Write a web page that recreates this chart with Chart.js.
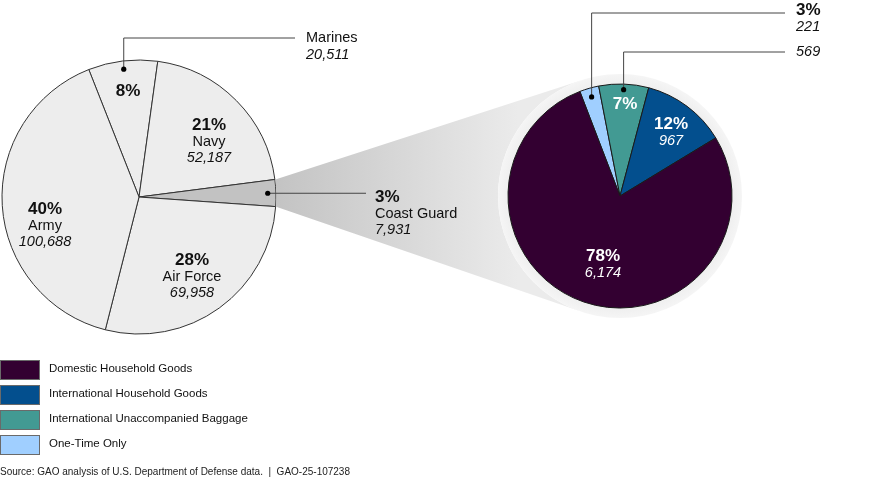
<!DOCTYPE html>
<html>
<head>
<meta charset="utf-8">
<script src="https://cdn.jsdelivr.net/npm/chart.js@4.4.1/dist/chart.umd.min.js"></script>
<style>
  body { margin: 0; background: #fff; font-family: "Liberation Sans", Arial, sans-serif; }
  #wrap { position: relative; width: 896px; height: 485px; overflow: hidden; }
  #wrap canvas { position: absolute; left: 0; top: 0; }
  #legend { position: absolute; left: 0; top: 360px; }
  .row { position: relative; height: 25px; }
  .box { position: absolute; left: 0; top: 0; width: 38px; height: 18px; border: 1px solid #6a6a6a; }
  .lbl { position: absolute; left: 49px; top: 2px; font-size: 11.5px; color: #111; white-space: nowrap; }
  #source { position: absolute; left: 0; top: 466px; font-size: 10px; color: #222; white-space: pre; }
</style>
</head>
<body>
<div id="wrap">
  <canvas id="left" width="896" height="485"></canvas>
  <canvas id="right" width="896" height="485"></canvas>
  <div id="legend"></div>
  <div id="source">Source: GAO analysis of U.S. Department of Defense data.  |  GAO-25-107238</div>
</div>
<script>
// data
const branches = ['Marines', 'Navy', 'Coast Guard', 'Air Force', 'Army'];
const branchMoves = [20511, 52187, 7931, 69958, 100688];
const branchColors = ['#ededed', '#ededed', '#c2c2c2', '#ededed', '#ededed'];

// Coast Guard breakdown, drawn clockwise from the top
const shipTypes = ['One-Time Only', 'International Unaccompanied Baggage', 'International Household Goods', 'Domestic Household Goods'];
const shipMoves = [221, 569, 967, 6174];
const shipColors = ['#a0cfff', '#429a93', '#034f8e', '#330031'];

const FONT = '"Liberation Sans", Arial, sans-serif';

function pct(arr, i) {
  const total = arr.reduce((a, b) => a + b, 0);
  return Math.round(arr[i] / total * 100) + '%';
}
function fmt(n) { return n.toLocaleString('en-US'); }

function text(ctx, str, x, y, style, color, align) {
  ctx.font = style + ' ' + FONT;
  ctx.fillStyle = color || '#111';
  ctx.textAlign = align || 'center';
  ctx.textBaseline = 'middle';
  ctx.fillText(str, x, y);
}

// point inside a slice where a leader line starts
function dotOf(el, f) {
  const mid = (el.startAngle + el.endAngle) / 2;
  return [el.x + Math.cos(mid) * el.outerRadius * f, el.y + Math.sin(mid) * el.outerRadius * f];
}

function leader(ctx, pts) {
  ctx.save();
  ctx.strokeStyle = '#444';
  ctx.lineWidth = 1;
  ctx.beginPath();
  ctx.moveTo(pts[0][0], pts[0][1]);
  for (let i = 1; i < pts.length; i++) ctx.lineTo(pts[i][0], pts[i][1]);
  ctx.stroke();
  ctx.fillStyle = '#000';
  ctx.beginPath();
  ctx.arc(pts[0][0], pts[0][1], 2.6, 0, Math.PI * 2);
  ctx.fill();
  ctx.restore();
}

const base = {
  responsive: false,
  animation: false,
  events: [],
  plugins: { legend: { display: false }, tooltip: { enabled: false } }
};

// labels for the left pie (Coast Guard label is drawn on the right canvas, above the zoom wedge)
const leftLabels = {
  id: 'leftLabels',
  afterDatasetsDraw(chart) {
    const ctx = chart.ctx;
    const arcs = chart.getDatasetMeta(0).data;
    const at = [[128, 91], [209, 125], null, [192, 260], [45, 209]];
    at.forEach((p, i) => {
      if (!p) return;
      text(ctx, pct(branchMoves, i), p[0], p[1], 'bold 17px');
      if (i === 0) return;
      text(ctx, branches[i], p[0], p[1] + 17, '14.5px');
      text(ctx, fmt(branchMoves[i]), p[0], p[1] + 33, 'italic 14.5px');
    });
    // Marines
    const d = dotOf(arcs[0], 0.94);
    leader(ctx, [d, [d[0], 38], [295, 38]]);
    text(ctx, branches[0], 306, 38, '14.5px', '#111', 'left');
    text(ctx, fmt(branchMoves[0]), 306, 55, 'italic 14.5px', '#111', 'left');
  }
};

const leftChart = new Chart(document.getElementById('left'), {
  type: 'pie',
  data: {
    labels: branches,
    datasets: [{ data: branchMoves, backgroundColor: branchColors, borderColor: '#333', borderWidth: 1 }]
  },
  options: Object.assign({}, base, {
    rotation: -21.5,
    layout: { padding: { left: 1.5, top: 59.5, right: 619.5, bottom: 150.5 } }
  }),
  plugins: [leftLabels]
});

const rightDecor = {
  id: 'rightDecor',
  beforeDatasetsDraw(chart) {
    const ctx = chart.ctx;
    const cg = leftChart.getDatasetMeta(0).data[2];
    const pie = chart.getDatasetMeta(0).data[0];
    const cx = pie.x, cy = pie.y, hr = pie.outerRadius + 10;
    const R = cg.outerRadius + 0.5;
    const p1 = [cg.x + Math.cos(cg.startAngle) * R, cg.y + Math.sin(cg.startAngle) * R];
    const p2 = [cg.x + Math.cos(cg.endAngle) * R, cg.y + Math.sin(cg.endAngle) * R];
    const tan = (p, sign) => {
      const dx = p[0] - cx, dy = p[1] - cy;
      const d = Math.hypot(dx, dy);
      return Math.atan2(dy, dx) + sign * Math.acos(hr / d);
    };
    const t1 = tan(p1, 1), t2 = tan(p2, -1);
    const g = ctx.createLinearGradient(p1[0], 0, cx - hr + 20, 0);
    g.addColorStop(0, '#c3c3c3');
    g.addColorStop(1, '#ebebeb');
    ctx.save();
    ctx.fillStyle = g;
    ctx.beginPath();
    ctx.moveTo(p1[0], p1[1]);
    ctx.lineTo(cx + Math.cos(t1) * hr, cy + Math.sin(t1) * hr);
    ctx.arc(cx, cy, hr, t1, t2, true);
    ctx.lineTo(p2[0], p2[1]);
    ctx.arc(cg.x, cg.y, R, cg.endAngle, cg.startAngle, true);
    ctx.closePath();
    ctx.fill();
    // halo round the zoomed pie
    const h = ctx.createRadialGradient(cx, cy, pie.outerRadius, cx, cy, hr);
    h.addColorStop(0, '#efefef');
    h.addColorStop(1, '#f5f5f5');
    ctx.fillStyle = h;
    ctx.beginPath();
    ctx.arc(cx, cy, hr, 0, Math.PI * 2);
    ctx.fill();
    ctx.restore();
  },
  afterDatasetsDraw(chart) {
    const ctx = chart.ctx;
    const arcs = chart.getDatasetMeta(0).data;
    // Coast Guard callout
    const cg = leftChart.getDatasetMeta(0).data[2];
    const c = dotOf(cg, 0.94);
    leader(ctx, [c, [366, c[1]]]);
    text(ctx, pct(branchMoves, 2), 375, 197, 'bold 17px', '#111', 'left');
    text(ctx, branches[2], 375, 214, '14.5px', '#111', 'left');
    text(ctx, fmt(branchMoves[2]), 375, 230, 'italic 14.5px', '#111', 'left');

    // inside labels
    text(ctx, pct(shipMoves, 1), 625, 104, 'bold 17px', '#fff');
    text(ctx, pct(shipMoves, 2), 671, 124, 'bold 17px', '#fff');
    text(ctx, fmt(shipMoves[2]), 671, 141, 'italic 14.5px', '#fff');
    text(ctx, pct(shipMoves, 3), 603, 256, 'bold 17px', '#fff');
    text(ctx, fmt(shipMoves[3]), 603, 273, 'italic 14.5px', '#fff');

    // callouts for the two thin slices
    const a = dotOf(arcs[0], 0.92);
    leader(ctx, [a, [a[0], 13], [785, 13]]);
    text(ctx, pct(shipMoves, 0), 796, 10, 'bold 17px', '#111', 'left');
    text(ctx, fmt(shipMoves[0]), 796, 27, 'italic 14.5px', '#111', 'left');
    const b = dotOf(arcs[1], 0.95);
    leader(ctx, [b, [b[0], 52], [785, 52]]);
    text(ctx, fmt(shipMoves[1]), 796, 52, 'italic 14.5px', '#111', 'left');
  }
};

const rightChart = new Chart(document.getElementById('right'), {
  type: 'pie',
  data: {
    labels: shipTypes,
    datasets: [{ data: shipMoves, backgroundColor: shipColors, borderColor: '#1a1a1a', borderWidth: 1 }]
  },
  options: Object.assign({}, base, {
    rotation: -21,
    layout: { padding: { left: 507.5, top: 83.5, right: 163.5, bottom: 176.5 } }
  }),
  plugins: [rightDecor]
});

// legend, in reading order
const legend = document.getElementById('legend');
for (let i = shipTypes.length - 1; i >= 0; i--) {
  const row = document.createElement('div');
  row.className = 'row';
  row.innerHTML = '<div class="box" style="background:' + shipColors[i] + '"></div><div class="lbl">' + shipTypes[i] + '</div>';
  legend.appendChild(row);
}
</script>
</body>
</html>
